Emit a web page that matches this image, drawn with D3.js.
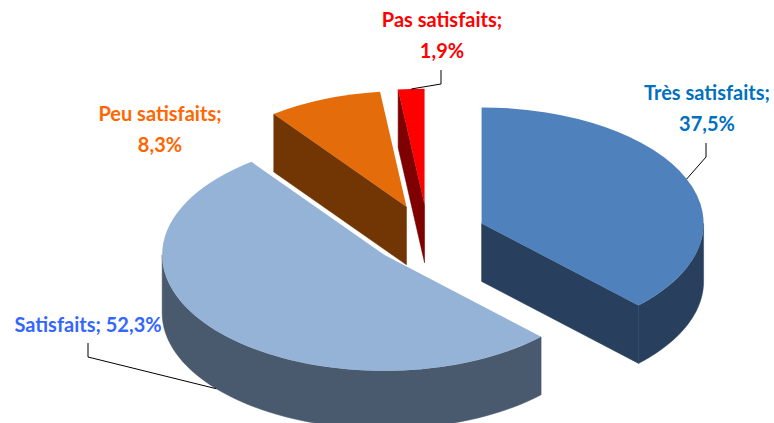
<!DOCTYPE html>
<html>
<head>
    <meta charset="utf-8">
    <title>Satisfaction</title>
    <script src="https://d3js.org/d3.v7.min.js"></script>
    <style>
        body { margin: 0; background: #fff; }
        text { font-family: Lato, "Open Sans", sans-serif; font-weight: bold; }
    </style>
</head>
<body>
    <svg width="774" height="423" id="mainSvg"></svg>
    <script>
        // data
        const categories = ["Très satisfaits", "Satisfaits", "Peu satisfaits", "Pas satisfaits"];
        const values = [37.5, 52.3, 8.3, 1.9];
        const valueLabels = ["37,5%", "52,3%", "8,3%", "1,9%"];

        const topColors = ["#4F81BD", "#95B3D7", "#E46C0A", "#FF0000"];
        const sideColors = ["#28405E", "#4A5A6E", "#713604", "#7F0000"];
        const labelColors = ["#0070C0", "#3366FF", "#FF6600", "#FF0000"];

        // label layout: anchor (centre, first baseline), two lines or one, leader start
        const labelLayout = [
            { x: 707, y: 100, split: true, tick: [706, 143], base: false },
            { x: 88, y: 332, split: false, tick: [88, 343], base: true },
            { x: 160, y: 121, split: true, tick: null, base: false },
            { x: 442, y: 27, split: true, tick: [441, 70], base: false }
        ];

        const svg = d3.select("#mainSvg");
        const cx = 428, cy = 235;
        const rx = 222, ry = 116;
        const depth = 58;
        const explode = 58;
        const k = ry / rx;

        const pie = d3.pie().sort(null).value(d => d);
        const arcs = pie(values).map((a, i) => {
            const bis = (a.startAngle + a.endAngle) / 2;
            return {
                ...a,
                i: i,
                bis: bis,
                ox: cx + explode * Math.sin(bis),
                oy: cy - explode * k * Math.cos(bis)
            };
        });

        const pt = (s, a) => [s.ox + rx * Math.sin(a), s.oy - ry * Math.cos(a)];
        const line = d3.line();
        const topArc = d3.arc().innerRadius(0).outerRadius(rx);

        // back slices first
        const order = arcs.slice().sort((a, b) => a.oy - b.oy);

        order.forEach(s => {
            const g = svg.append("g");
            const eps = 1e-6;

            // radial walls facing the viewer
            [[s.startAngle, Math.sin(s.startAngle) < -eps], [s.endAngle, Math.sin(s.endAngle) > eps]]
                .filter(w => w[1])
                .forEach(w => {
                    const p = pt(s, w[0]);
                    g.append("path")
                        .attr("d", line([[s.ox, s.oy], p, [p[0], p[1] + depth], [s.ox, s.oy + depth]]) + "Z")
                        .attr("fill", sideColors[s.i])
                        .attr("stroke", sideColors[s.i])
                        .attr("stroke-width", 0.5);
                });

            // outer rim, front half only
            const a1 = Math.max(s.startAngle, Math.PI / 2);
            const a2 = Math.min(s.endAngle, Math.PI * 3 / 2);
            if (a2 > a1) {
                const n = 60;
                const topPts = d3.range(n + 1).map(j => pt(s, a1 + (a2 - a1) * j / n));
                const botPts = topPts.slice().reverse().map(p => [p[0], p[1] + depth]);
                g.append("path")
                    .attr("d", line(topPts.concat(botPts)) + "Z")
                    .attr("fill", sideColors[s.i])
                    .attr("stroke", sideColors[s.i])
                    .attr("stroke-width", 0.5);
            }

            // top face
            g.append("path")
                .attr("transform", `translate(${s.ox},${s.oy}) scale(1,${k})`)
                .attr("d", topArc(s))
                .attr("fill", topColors[s.i]);
        });

        // leader lines
        arcs.forEach(s => {
            const L = labelLayout[s.i];
            if (!L.tick) return;
            const p = pt(s, s.bis);
            const end = L.base ? [p[0], p[1] + depth] : p;
            svg.append("path")
                .attr("d", line([L.tick, [L.tick[0], L.tick[1] + 14], end]))
                .attr("fill", "none")
                .attr("stroke", "#000")
                .attr("stroke-width", 1);
        });

        // labels
        arcs.forEach(s => {
            const L = labelLayout[s.i];
            const t = svg.append("text")
                .attr("x", L.x)
                .attr("y", L.y)
                .attr("text-anchor", "middle")
                .attr("font-size", 20)
                .attr("fill", labelColors[s.i]);
            if (L.split) {
                t.append("tspan").attr("x", L.x).text(categories[s.i] + ";");
                t.append("tspan").attr("x", L.x).attr("dy", 31).text(valueLabels[s.i]);
            } else {
                t.text(categories[s.i] + "; " + valueLabels[s.i]);
            }
        });
    </script>
</body>
</html>
